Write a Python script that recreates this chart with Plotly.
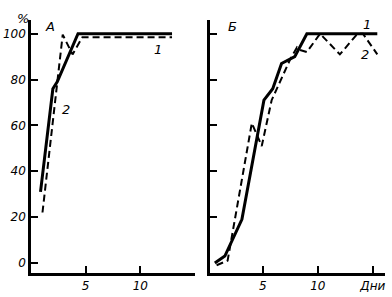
import plotly.graph_objects as go
from plotly.subplots import make_subplots

# Panel A
a_days_1 = [0.87, 2.0, 2.4, 4.3, 12.9]
a_vals_1 = [31, 76, 79, 100, 100]
a_days_2 = [1.05, 2.4, 2.9, 3.8, 4.7, 12.9]
a_vals_2 = [22, 78, 99.6, 91, 98.5, 98.5]

# Panel Б
b_days_1 = [0.64, 1.55, 3.1, 5.1, 5.9, 6.7, 7.9, 9.0, 15.4]
b_vals_1 = [0, 3, 19, 71, 76, 87, 90, 100, 100]
b_days_2 = [0.8, 1.8, 4.0, 4.9, 5.8, 7.5, 8.1, 8.3, 9.0, 10.2, 12.0, 13.6, 14.1, 15.4]
b_vals_2 = [-1, 1, 61, 51, 71, 89, 94, 93, 92, 100, 91, 100, 100, 91]

y_ticks = [0, 20, 40, 60, 80, 100]
a_x_ticks = [5, 10]
b_x_ticks = [5, 10, 15]
b_x_labels = ["5", "10", "Дни"]

fig = make_subplots(rows=1, cols=2)

solid = dict(color="black", width=3)
dashed = dict(color="black", width=2, dash="7px,4px")

fig.add_trace(go.Scatter(x=a_days_1, y=a_vals_1, mode="lines", line=solid), 1, 1)
fig.add_trace(go.Scatter(x=a_days_2, y=a_vals_2, mode="lines", line=dashed), 1, 1)
fig.add_trace(go.Scatter(x=b_days_1, y=b_vals_1, mode="lines", line=solid), 1, 2)
fig.add_trace(go.Scatter(x=b_days_2, y=b_vals_2, mode="lines", line=dashed), 1, 2)

tickfont = dict(family="DejaVu Sans", size=12, color="black", style="italic")
common = dict(showline=True, linecolor="black", linewidth=2.5, showgrid=False,
              zeroline=False, ticks="inside", ticklen=7, tickwidth=1.5,
              tickcolor="black", tickfont=tickfont)

fig.update_layout(
    width=392, height=297, margin=dict(l=0, r=0, t=0, b=0),
    paper_bgcolor="white", plot_bgcolor="white", showlegend=False,
    xaxis=dict(domain=[31/392, 195/392], range=[0, 15], tickvals=a_x_ticks, **common),
    yaxis=dict(domain=[24/297, 277/297], range=[-4.4, 106], tickvals=y_ticks, **common),
    xaxis2=dict(domain=[210/392, 385/392], range=[0.2, 16.1], tickvals=b_x_ticks,
                ticktext=b_x_labels, **common),
    yaxis2=dict(domain=[24/297, 277/297], range=[-4.4, 106], tickvals=y_ticks[1:],
                showticklabels=False, **common),
)

afont = dict(family="DejaVu Sans", size=13, color="black", style="italic")
anns = [
    dict(x=15/392, y=(297-9)/297, xref="paper", yref="paper", text="%"),
    dict(x=1.7, y=103, xref="x", yref="y", text="A"),
    dict(x=11.6, y=93, xref="x", yref="y", text="1"),
    dict(x=3.2, y=67, xref="x", yref="y", text="2"),
    dict(x=2.2, y=103, xref="x2", yref="y2", text="Б"),
    dict(x=14.5, y=104, xref="x2", yref="y2", text="1"),
    dict(x=14.3, y=91, xref="x2", yref="y2", text="2"),
]
for a in anns:
    fig.add_annotation(showarrow=False, font=afont, **a)

fig.write_html("out.html")
